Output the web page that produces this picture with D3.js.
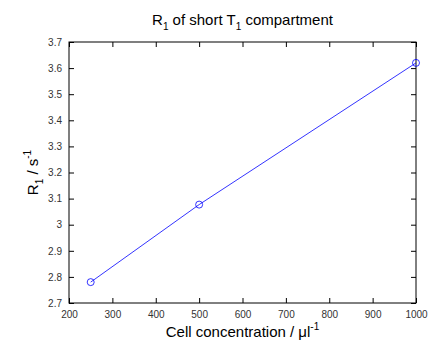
<!DOCTYPE html>
<html>
<head>
<meta charset="utf-8">
<script src="https://cdn.jsdelivr.net/npm/d3@7"></script>
<style>
  body { margin: 0; background: #fff; }
  svg text { font-family: "Liberation Sans", Arial, sans-serif; }
</style>
</head>
<body>
<div id="chart"></div>
<script>
// data
var concentration = [250, 500, 1000];
var r1 = [2.78, 3.077, 3.62];
var xTicks = [200, 300, 400, 500, 600, 700, 800, 900, 1000];
var yTicks = [2.7, 2.8, 2.9, 3, 3.1, 3.2, 3.3, 3.4, 3.5, 3.6, 3.7];

var svgWidth = 435;
var svgHeight = 344;
var margin = { top: 42, right: 19, bottom: 41, left: 69 };
var width = svgWidth - margin.left - margin.right;
var height = svgHeight - margin.top - margin.bottom;

var svg = d3.select("#chart").append("svg")
  .attr("width", svgWidth)
  .attr("height", svgHeight);

var chartGroup = svg.append("g")
  .attr("transform", `translate(${margin.left}, ${margin.top})`);

var x = d3.scaleLinear().domain([200, 1000]).range([0, width]);
var y = d3.scaleLinear().domain([2.7, 3.7]).range([height, 0]);

// box
chartGroup.append("rect")
  .attr("width", width).attr("height", height)
  .attr("fill", "none").attr("stroke", "#000").attr("stroke-width", 1);

function styleAxis(g, showText) {
  g.select(".domain").remove();
  g.selectAll(".tick line").attr("stroke", "#000");
  g.selectAll(".tick text")
    .attr("fill", "#333")
    .style("font-size", "10px")
    .attr("display", showText ? null : "none");
}

var tk = 5;
chartGroup.append("g")
  .attr("transform", `translate(0, ${height})`)
  .call(d3.axisBottom(x).tickValues(xTicks).tickSize(-tk).tickPadding(tk + 3).tickFormat(d3.format("d")))
  .call(g => styleAxis(g, true));

chartGroup.append("g")
  .call(d3.axisTop(x).tickValues(xTicks).tickSize(-tk))
  .call(g => styleAxis(g, false));

chartGroup.append("g")
  .call(d3.axisLeft(y).tickValues(yTicks).tickSize(-tk).tickPadding(tk + 2).tickFormat(d3.format("~g")))
  .call(g => styleAxis(g, true));

chartGroup.append("g")
  .attr("transform", `translate(${width}, 0)`)
  .call(d3.axisRight(y).tickValues(yTicks).tickSize(-tk))
  .call(g => styleAxis(g, false));

var pts = concentration.map((c, i) => ({ c: c, r: r1[i] }));

chartGroup.append("path")
  .datum(pts)
  .attr("fill", "none")
  .attr("stroke", "#0000ff")
  .attr("stroke-width", 0.8)
  .attr("d", d3.line().x(d => x(d.c)).y(d => y(d.r)));

chartGroup.selectAll(".pt")
  .data(pts)
  .enter()
  .append("circle")
  .attr("cx", d => x(d.c))
  .attr("cy", d => y(d.r))
  .attr("r", 3.5)
  .attr("fill", "none")
  .attr("stroke", "#0000ff")
  .attr("stroke-width", 0.8);

// title
var title = svg.append("text")
  .attr("x", margin.left + width / 2)
  .attr("y", 25)
  .attr("text-anchor", "middle")
  .style("font-size", "15px");
title.append("tspan").text("R");
title.append("tspan").attr("dy", 5).style("font-size", "10px").text("1");
title.append("tspan").attr("dy", -5).text(" of short T");
title.append("tspan").attr("dy", 5).style("font-size", "10px").text("1");
title.append("tspan").attr("dy", -5).text(" compartment");

// x label
var xl = svg.append("text")
  .attr("x", margin.left + width / 2)
  .attr("y", 337)
  .attr("text-anchor", "middle")
  .style("font-size", "15px");
xl.append("tspan").text("Cell concentration / \u03bcl");
xl.append("tspan").attr("dy", -7).style("font-size", "10px").text("-1");

// y label
var yl = svg.append("text")
  .attr("transform", `translate(38, ${margin.top + height / 2}) rotate(-90)`)
  .attr("text-anchor", "middle")
  .style("font-size", "15px");
yl.append("tspan").text("R");
yl.append("tspan").attr("dy", 5).style("font-size", "10px").text("1");
yl.append("tspan").attr("dy", -5).text(" / s");
yl.append("tspan").attr("dy", -7).style("font-size", "10px").text("-1");
</script>
</body>
</html>
